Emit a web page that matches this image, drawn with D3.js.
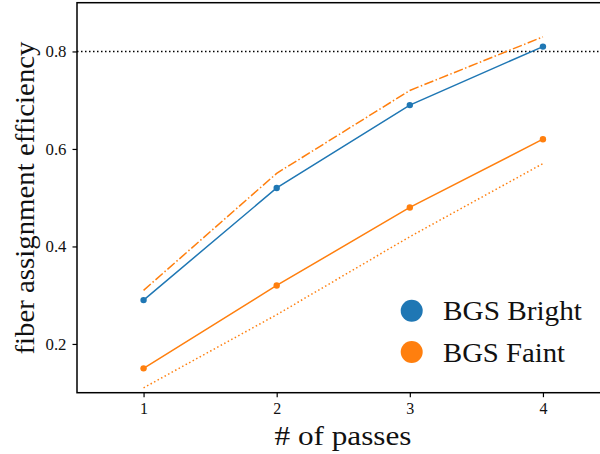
<!DOCTYPE html>
<html><head><meta charset="utf-8">
<script src="https://cdn.jsdelivr.net/npm/d3@7"></script>
<style>body{margin:0;background:#fff}svg{display:block}text{font-family:"Liberation Serif","DejaVu Serif",serif;fill:#111}</style>
</head><body><svg id="c" width="600" height="454"></svg>
<script>
const passes = [1, 2, 3, 4];
const bgsBright = [0.29, 0.52, 0.69, 0.81];
const bgsFaint = [0.15, 0.32, 0.48, 0.62];
const faintDashDot = [0.31, 0.55, 0.72, 0.83];
const faintDotted = [0.11, 0.26, 0.42, 0.57];
const xTicks = [1, 2, 3, 4];
const yTicks = [0.2, 0.4, 0.6, 0.8];
const target = 0.8;
const legendLabels = ["BGS Bright", "BGS Faint"];
const colors = ["#1f77b4", "#ff7f0e"];

const svg = d3.select("#c");
const L = 77, T = 2.7, B = 392.7;
const x = d3.scaleLinear().domain([0.5, 4.5]).range([L, 609.5]);
const y = d3.scaleLinear().domain([0.1, 0.9]).range([B, T]);

const line = d3.line().x((d, i) => x(passes[i])).y(d => y(d));

// target line
svg.append("line").attr("x1", L).attr("x2", 600).attr("y1", y(target)).attr("y2", y(target))
  .attr("stroke", "#000").attr("stroke-width", 1.5).attr("stroke-dasharray", "1.5,2.5");

function series(vals, color, dash, markers) {
  svg.append("path").datum(vals).attr("d", line).attr("fill", "none")
    .attr("stroke", color).attr("stroke-width", 1.5)
    .attr("stroke-dasharray", dash || null);
  if (markers) {
    svg.selectAll(null).data(vals).enter().append("circle")
      .attr("cx", (d, i) => x(passes[i])).attr("cy", d => y(d)).attr("r", 3.2).attr("fill", color);
  }
}
series(faintDashDot, colors[1], "9.6,2.4,1.5,2.4", false);
series(faintDotted, colors[1], "1.5,2.5", false);
series(bgsBright, colors[0], null, true);
series(bgsFaint, colors[1], null, true);

// axes
const gx = svg.append("g").attr("transform", `translate(0,${B})`)
  .call(d3.axisBottom(x).tickValues(xTicks).tickFormat(d3.format("d")).tickSize(4.5).tickPadding(5));
const gy = svg.append("g").attr("transform", `translate(${L},0)`)
  .call(d3.axisLeft(y).tickValues(yTicks).tickFormat(d3.format(".1f")).tickSize(4.5).tickPadding(6));
[gx, gy].forEach(g => {
  g.select(".domain").remove();
  g.selectAll("line").attr("stroke", "#000").attr("stroke-width", 1.2);
  g.selectAll("text").attr("font-size", 16).attr("font-family", "Liberation Serif, serif").attr("fill", "#111");
});
gy.selectAll("text").attr("textLength", 21).attr("lengthAdjust", "spacingAndGlyphs");
// frame
svg.append("rect").attr("x", L).attr("y", T).attr("width", 609.5 - L).attr("height", B - T)
  .attr("fill", "none").attr("stroke", "#000").attr("stroke-width", 1.5);

// axis labels
svg.append("text").attr("x", 343).attr("y", 445).attr("text-anchor", "middle")
  .attr("font-size", 28).attr("textLength", 137).attr("lengthAdjust", "spacingAndGlyphs").text("# of passes");
svg.append("text").attr("transform", `translate(34,198) rotate(-90)`)
  .attr("text-anchor", "middle").attr("font-size", 28).attr("textLength", 313).attr("lengthAdjust", "spacingAndGlyphs")
  .text("fiber assignment efficiency");

// legend
const legW = [139, 122];
legendLabels.forEach((lab, i) => {
  const cy = 310.7 + i * 41.3;
  svg.append("circle").attr("cx", 411.7).attr("cy", cy).attr("r", 11).attr("fill", colors[i]);
  svg.append("text").attr("x", 443).attr("y", cy + 9.5).attr("font-size", 28)
    .attr("textLength", legW[i]).attr("lengthAdjust", "spacingAndGlyphs").text(lab);
});
</script></body></html>
